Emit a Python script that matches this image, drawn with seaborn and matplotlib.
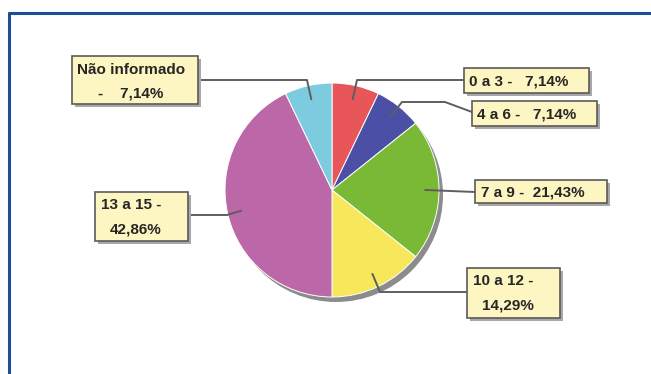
import matplotlib
matplotlib.use("Agg")
import matplotlib.pyplot as plt
import seaborn as sns
import numpy as np
from matplotlib.patches import Rectangle, Circle
from matplotlib.lines import Line2D

# ---- data ----
categories = ["0 a 3", "4 a 6", "7 a 9", "10 a 12", "13 a 15", "Não informado"]
percentages = [7.14, 7.14, 21.43, 14.29, 42.86, 7.14]
slice_colors = ["#e8565a", "#4b4fa6", "#7ab935", "#f6e85a", "#bc67a8", "#7ccbdf"]

sns.set_theme(style="white")
plt.rcParams["font.family"] = ["Liberation Sans", "DejaVu Sans"]

W, H = 651, 374
fig = plt.figure(figsize=(6.51, 3.74), dpi=100)
fig.patch.set_facecolor("white")
ax = fig.add_axes([0, 0, 1, 1])

def Y(y):
    return H - y

cx, cy, R = 332, 190, 107
palette = sns.color_palette(slice_colors)

# shadow
ax.add_patch(Circle((cx + 4, Y(cy + 5)), R, color="#8c8c8c", zorder=1, lw=0))
wedges, _ = ax.pie(percentages, colors=palette, startangle=90, counterclock=False,
                   center=(cx, Y(cy)), radius=R,
                   wedgeprops=dict(edgecolor="white", linewidth=0.7, zorder=2))

# ---- label layout (pixel positions, y measured from top) ----
layout = [
    dict(tmpl=["{c} -   {p}"], box=(464, 68, 589, 93), pos=[(469, 81)],
         via=[(357, 80), (464, 80)]),
    dict(tmpl=["{c} -   {p}"], box=(472, 101, 597, 126), pos=[(477, 114)],
         via=[(402, 102), (445, 102), (472, 112)]),
    dict(tmpl=["{c} -  {p}"], box=(475, 180, 607, 203), pos=[(481, 192)],
         via=[(475, 192)]),
    dict(tmpl=["{c} -", "{p}"], box=(467, 268, 560, 318), pos=[(473, 281), (482, 305)],
         via=[(380, 292), (467, 292)]),
    dict(tmpl=["{c} -", "{p}"], box=(95, 192, 188, 241), pos=[(101, 205), (110, 229)],
         via=[(227, 215), (188, 215)]),
    dict(tmpl=["{c}", "-    {p}"], box=(72, 56, 198, 104), pos=[(77, 70), (98, 93)],
         via=[(307, 80), (198, 80)]),
]

for w, cat, pct, lay in zip(wedges, categories, percentages, layout):
    th = np.deg2rad((w.theta1 + w.theta2) / 2)
    ax0 = cx + 0.87 * R * np.cos(th)
    ay0 = Y(cy) + 0.87 * R * np.sin(th)
    xs = [ax0] + [p[0] for p in lay["via"]]
    ys = [ay0] + [Y(p[1]) for p in lay["via"]]
    ax.add_line(Line2D(xs, ys, color="#5e5e5e", lw=1.4, zorder=3))
    x0, y0, x1, y1 = lay["box"]
    ax.add_patch(Rectangle((x0 + 2.5, Y(y1 + 2.5)), x1 - x0, y1 - y0,
                           facecolor="#a8a8a8", edgecolor="none", zorder=4))
    ax.add_patch(Rectangle((x0, Y(y1)), x1 - x0, y1 - y0,
                           facecolor="#fdf5c2", edgecolor="#5a5a5a", lw=1.2, zorder=5))
    ptxt = f"{pct:.2f}".replace(".", ",") + "%"
    for t, (tx, ty) in zip(lay["tmpl"], lay["pos"]):
        ax.text(tx, Y(ty), t.format(c=cat, p=ptxt), ha="left", va="center",
                fontsize=11, fontweight="bold", color="#262626", zorder=6)

# frame border (blue, left and top only visible)
ax.add_line(Line2D([9, 9], [Y(13), -20], color="#1a4f96", lw=2.2, zorder=7))
ax.add_line(Line2D([9, W + 20], [Y(13), Y(13)], color="#1a4f96", lw=2.2, zorder=7))

ax.set_xlim(0, W)
ax.set_ylim(0, H)
ax.set_aspect("auto")
ax.axis("off")

fig.savefig("out.png", dpi=100)
